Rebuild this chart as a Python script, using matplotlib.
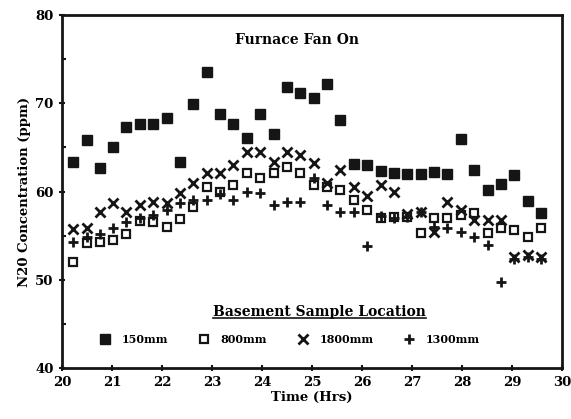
import matplotlib
matplotlib.use("Agg")
import matplotlib.pyplot as plt
from matplotlib.lines import Line2D

# ---- data ----
times = [20.22, 20.49, 20.76, 21.03, 21.29, 21.56, 21.83, 22.10, 22.36, 22.63,
         22.90, 23.17, 23.43, 23.70, 23.97, 24.24, 24.50, 24.77, 25.04, 25.31,
         25.57, 25.84, 26.11, 26.38, 26.64, 26.91, 27.18, 27.45, 27.71, 27.98,
         28.25, 28.52, 28.78, 29.05, 29.32, 29.59]

s150 = [63.3, 65.8, 62.7, 65.0, 67.3, 67.7, 67.7, 68.3, 63.4, 69.9,
        73.5, 68.8, 67.7, 66.1, 68.8, 66.5, 71.8, 71.2, 70.6, 72.2,
        68.1, 63.1, 63.0, 62.3, 62.1, 62.0, 62.0, 62.2, 62.0, 66.0,
        62.4, 60.2, 60.9, 61.9, 58.9, 57.6]

s800 = [52.0, 54.2, 54.3, 54.5, 55.2, 56.7, 56.5, 56.0, 56.9, 58.2,
        60.5, 59.9, 60.7, 62.1, 61.5, 62.1, 62.8, 62.1, 60.7, 60.5,
        60.2, 59.0, 57.9, 57.0, 57.1, 57.1, 55.3, 57.0, 57.0, 57.3,
        57.6, 55.3, 55.9, 55.6, 54.8, 55.9]

s1800 = [55.8, 55.9, 57.7, 58.7, 57.7, 58.5, 58.8, 58.7, 59.8, 61.0,
         62.1, 62.1, 63.0, 64.5, 64.5, 63.3, 64.5, 64.1, 63.2, 61.0,
         62.4, 60.5, 59.5, 60.7, 60.0, 57.5, 57.7, 55.4, 58.8, 57.9,
         56.8, 56.8, 56.8, 52.6, 52.8, 52.6]

s1300 = [54.3, 54.8, 55.2, 55.9, 56.5, 57.0, 57.3, 57.9, 58.7, 59.0,
         59.0, 59.7, 59.0, 60.0, 59.8, 58.5, 58.8, 58.8, 61.5, 58.5,
         57.7, 57.7, 53.8, 57.2, 57.0, 57.1, 57.7, 56.0, 55.9, 55.4,
         54.9, 53.9, 49.7, 52.4, 52.6, 52.4]

labels = ["150mm", "800mm", "1800mm", "1300mm"]
title = "Furnace Fan On"
legend_title = "Basement Sample Location"
xlabel = "Time (Hrs)"
ylabel = "N20 Concentration (ppm)"

# ---- figure ----
plt.rcParams['font.family'] = ['DejaVu Serif']
plt.rcParams['font.weight'] = 'bold'
fig = plt.figure(figsize=(5.71, 4.19), dpi=100)
ax = fig.add_axes([0.1086, 0.1217, 0.8754, 0.8423])

ink = '#151515'
ax.plot(times, s150, 's', ms=6.5, color=ink, mec=ink, label=labels[0])
ax.plot(times, s800, 's', ms=6, mfc='none', mec=ink, mew=1.6, label=labels[1])
ax.plot(times, s1800, 'x', ms=7, color=ink, mew=2.0, label=labels[2])
ax.plot(times, s1300, '+', ms=7, color=ink, mew=2.0, label=labels[3])

ax.set_xlim(20, 30)
ax.set_ylim(40, 80)
ax.set_xticks(range(20, 31))
ax.set_yticks([40, 50, 60, 70, 80])
ax.set_yticks([45, 55, 65, 75], minor=True)
ax.tick_params(axis='both', which='major', labelsize=9.5, width=1.5, length=5,
               direction='inout', color=ink)
ax.tick_params(axis='y', which='minor', width=1.5, length=3, direction='in', color=ink)
for lab in ax.get_xticklabels() + ax.get_yticklabels():
    lab.set_fontweight('bold')
for sp in ax.spines.values():
    sp.set_linewidth(2.0)
    sp.set_color(ink)

ax.set_xlabel(xlabel, fontsize=9.5, fontweight='bold', labelpad=1)
ax.set_ylabel(ylabel, fontsize=9.5, fontweight='bold', labelpad=3)

ax.text(24.7, 77.2, title, ha='center', va='center', fontsize=10, fontweight='bold')

lt = ax.text(25.15, 46.4, legend_title, ha='center', va='center', fontsize=10,
             fontweight='bold')
leg = ax.legend(loc='center', bbox_to_anchor=(0.455, 0.08), ncol=4, frameon=False,
                fontsize=8, handletextpad=0.9, columnspacing=2.6, handlelength=1.2)
for t in leg.get_texts():
    t.set_fontweight('bold')

fig.canvas.draw()
bb = lt.get_window_extent()
inv = fig.transFigure.inverted()
(x0, y0), (x1, y1) = inv.transform([(bb.x0, bb.y0 + 1), (bb.x1, bb.y0 + 1)])
fig.add_artist(Line2D([x0, x1], [y0, y1], transform=fig.transFigure, color=ink, lw=1.2))

fig.savefig("out.png", dpi=100, facecolor='white')
